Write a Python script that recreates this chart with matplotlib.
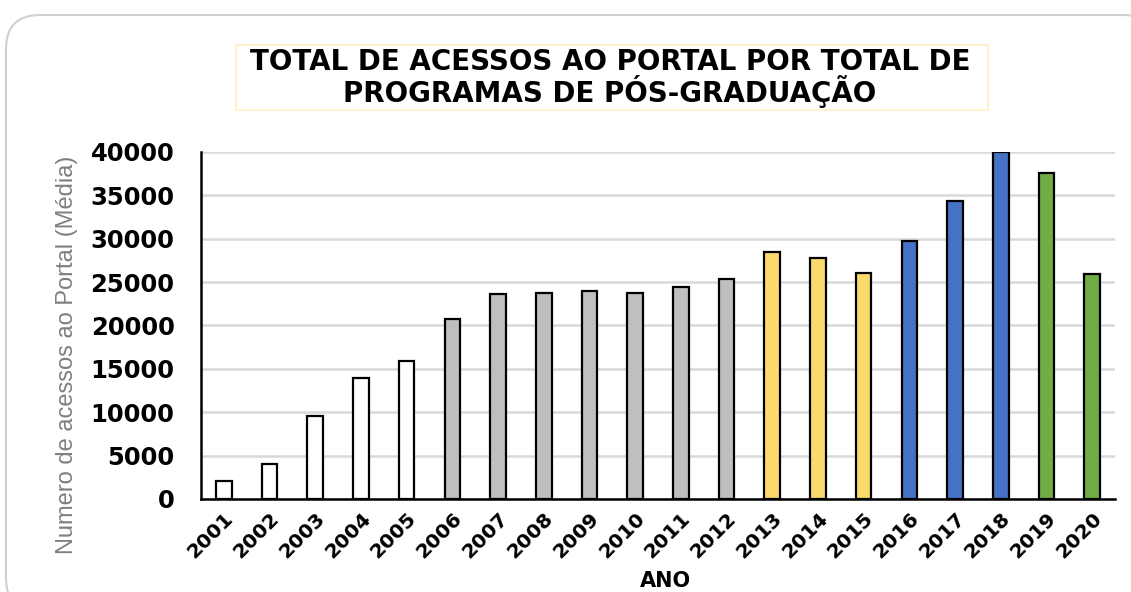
import matplotlib
matplotlib.use("Agg")
import matplotlib.pyplot as plt
from matplotlib.patches import FancyBboxPatch, Rectangle
from matplotlib.transforms import ScaledTranslation

anos = ["2001", "2002", "2003", "2004", "2005", "2006", "2007", "2008", "2009", "2010",
        "2011", "2012", "2013", "2014", "2015", "2016", "2017", "2018", "2019", "2020"]
acessos = [2100, 4000, 9600, 14000, 15950, 20700, 23600, 23750, 24000, 23700,
           24400, 25350, 28470, 27800, 26000, 29750, 34400, 40000, 37550, 25900]
cores = ["#FFFFFF"] * 5 + ["#BFBFBF"] * 7 + ["#F9DA6B"] * 3 + ["#4472C4"] * 3 + ["#70AD47"] * 2
yticks = [0, 5000, 10000, 15000, 20000, 25000, 30000, 35000, 40000]

W, H = 1131, 592
fig = plt.figure(figsize=(W / 100, H / 100), dpi=100)
fig.patch.set_facecolor("white")

# rounded outer frame
frame = FancyBboxPatch((6 / W, -20 / H), (W + 20) / W, (H - 15 + 20) / H,
                       boxstyle="round,pad=0,rounding_size=0.03",
                       transform=fig.transFigure, facecolor="white",
                       edgecolor="#D0D0D0", linewidth=1.5, mutation_aspect=W / H,
                       zorder=-10)
fig.patches.append(frame)

# title box
fig.patches.append(Rectangle((236 / W, 1 - 110 / H), (988 - 236) / W, (110 - 45) / H,
                             transform=fig.transFigure, facecolor="white",
                             edgecolor="#FFF2CC", linewidth=1.5, zorder=-5))

ax = fig.add_axes([201 / W, 1 - 499 / H, (1115 - 201) / W, (499 - 152) / H])
ax.set_facecolor("none")
x = range(len(anos))
ax.bar(x, acessos, width=0.34, color=cores, edgecolor="black", linewidth=1.6, zorder=3)
ax.set_xlim(-0.5, len(anos) - 0.5)
ax.set_ylim(0, 40000)
ax.set_yticks(yticks)
ax.set_yticklabels([str(v) for v in yticks], fontsize=17.5, fontweight="bold",
                   family="DejaVu Sans")
ax.set_xticks(list(x))
ax.set_xticklabels(anos, rotation=45, ha="right", rotation_mode="anchor",
                   fontsize=14.5, fontweight="bold", family="DejaVu Sans")
for lbl in ax.get_xticklabels():
    lbl.set_transform(lbl.get_transform() + ScaledTranslation(6 / 100, 0, fig.dpi_scale_trans))
ax.tick_params(axis="both", length=0)
ax.tick_params(axis="y", pad=19)
ax.tick_params(axis="x", pad=7)
ax.grid(axis="y", color="#D9D9D9", linewidth=1.8, zorder=0)
for s in ["top", "right"]:
    ax.spines[s].set_visible(False)
ax.spines["left"].set_linewidth(1.8)
ax.spines["bottom"].set_linewidth(1.8)
ax.spines["left"].set_zorder(4)
ax.spines["bottom"].set_zorder(4)

fig.text(67 / W, 1 - 355 / H, "Numero de acessos ao Portal (Média)", rotation=90,
         ha="center", va="center", fontsize=17, color="#7F7F7F", family="Liberation Sans")
fig.text(665 / W, 1 - 581 / H, "ANO", ha="center", va="center", fontsize=15,
         fontweight="bold", family="DejaVu Sans")

fig.text(610 / W, 1 - 78 / H, "TOTAL DE ACESSOS AO PORTAL POR TOTAL DE\nPROGRAMAS DE PÓS-GRADUAÇÃO",
         ha="center", va="center", fontsize=20, fontweight="bold",
         family="DejaVu Sans", linespacing=1.0)

fig.savefig("out.png", dpi=100, facecolor="white")
